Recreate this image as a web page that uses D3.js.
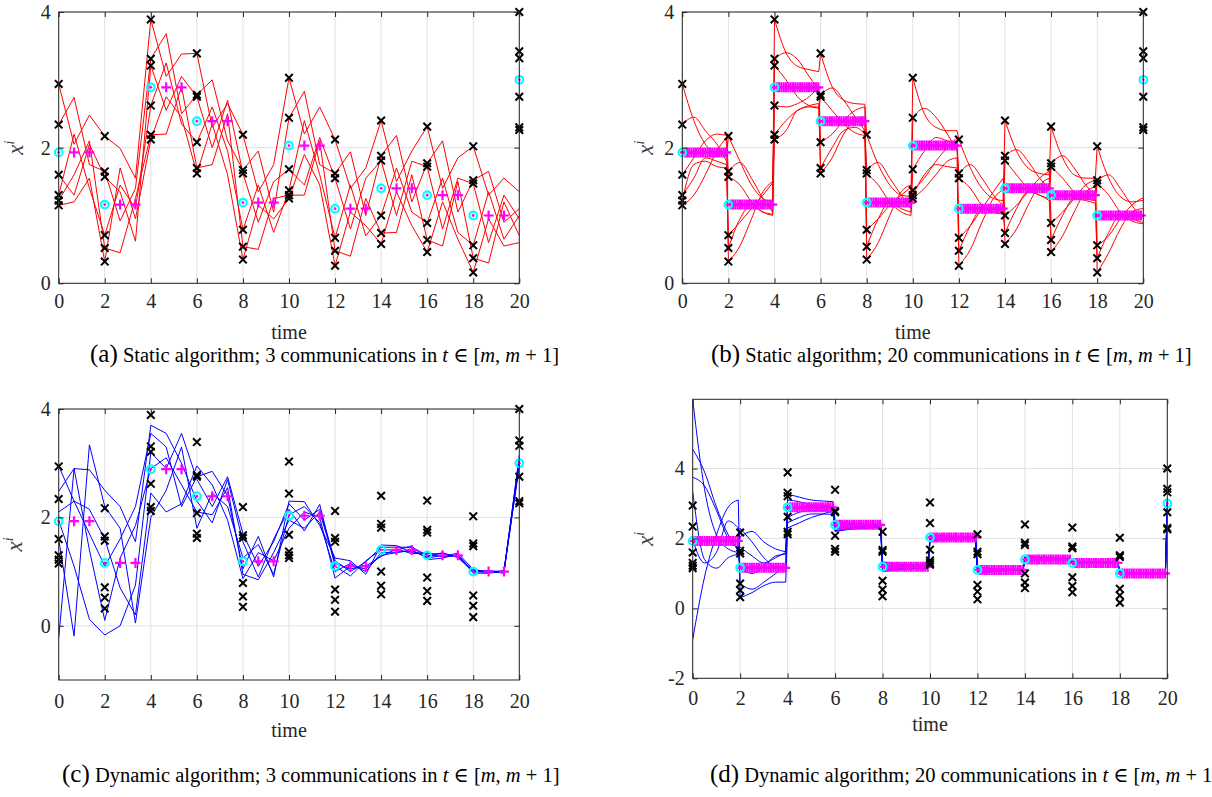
<!DOCTYPE html>
<html>
<head>
<meta charset="utf-8">
<script src="https://cdn.jsdelivr.net/npm/d3@7"></script>
<style>
  body { margin: 0; background: #fff; }
</style>
</head>
<body>
<svg id="fig" width="1212" height="797"></svg>
<script>
// ---- data ----
const timeTicks = [0, 2, 4, 6, 8, 10, 12, 14, 16, 18, 20];
const measTimes = [0, 2, 4, 6, 8, 10, 12, 14, 16, 18, 20];

// black crosses: six sensor readings at each sample time
const meas = [
  [2.94, 2.34, 1.60, 1.30, 1.22, 1.15],
  [2.17, 1.65, 1.57, 0.71, 0.52, 0.32],
  [3.89, 3.31, 3.21, 2.62, 2.19, 2.12],
  [3.39, 2.78, 2.75, 2.08, 1.70, 1.62],
  [2.19, 1.67, 1.62, 0.79, 0.54, 0.35],
  [3.03, 2.44, 1.68, 1.37, 1.30, 1.25],
  [2.12, 1.62, 1.55, 0.67, 0.48, 0.26],
  [2.40, 1.88, 1.81, 1.00, 0.74, 0.58],
  [2.31, 1.77, 1.72, 0.89, 0.64, 0.46],
  [2.02, 1.52, 1.47, 0.56, 0.37, 0.16],
  [4.00, 3.42, 3.32, 2.75, 2.30, 2.26]
];
// cyan circles / magenta pluses: the average
const means = [1.93, 1.16, 2.89, 2.39, 1.19, 2.03, 1.10, 1.40, 1.30, 1.00, 3.00];

// (a) static, 3 communications: agent values at m+2/3 and m+4/3
const aT1 = [
  [2.05, 2.74, 1.30, 2.20, 1.60, 1.20],
  [1.99, 0.92, 1.35, 1.45, 0.45, 1.70],
  [3.05, 3.68, 2.55, 3.25, 2.20, 2.75],
  [2.30, 3.00, 2.00, 2.60, 1.75, 2.35],
  [1.35, 1.95, 0.90, 1.45, 0.50, 1.15],
  [2.20, 2.83, 1.45, 2.40, 1.30, 1.90],
  [1.40, 1.94, 0.80, 1.45, 0.40, 1.05],
  [1.50, 2.18, 1.00, 1.70, 0.75, 1.35],
  [1.40, 2.10, 0.80, 1.55, 0.55, 1.20],
  [1.30, 1.65, 0.60, 1.35, 0.30, 0.95]
];
const aT2 = [
  [2.48, 1.75, 2.05, 1.40, 2.10, 1.55],
  [1.55, 1.40, 0.62, 1.10, 1.25, 0.95],
  [3.38, 2.50, 3.05, 2.35, 2.90, 2.45],
  [2.65, 2.10, 2.70, 1.95, 2.50, 1.60],
  [1.75, 1.05, 1.50, 0.75, 1.25, 0.95],
  [2.60, 1.75, 2.15, 1.60, 2.10, 1.45],
  [1.70, 1.00, 1.55, 0.70, 1.25, 0.85],
  [1.95, 1.20, 1.80, 1.05, 1.60, 0.85],
  [1.85, 1.05, 1.55, 0.75, 1.50, 0.65],
  [1.55, 0.90, 1.30, 0.65, 1.20, 0.55]
];
const aT20 = [1.35, 1.10, 0.95, 1.00, 0.70, 0.60];

// (b) static, 20 communications: per interval, per agent, values at m+0.5, m+1, m+1.5, end
const bCurve = [
  [[2.40, 2.05, 1.92, 1.88], [2.45, 2.25, 2.05, 1.80], [1.85, 2.10, 2.20, 2.18], [1.55, 1.85, 1.80, 1.75], [1.75, 1.80, 1.72, 1.70], [1.30, 1.60, 1.95, 2.15]],
  [[1.80, 1.45, 1.25, 1.20], [1.78, 1.55, 1.25, 1.05], [1.45, 1.20, 1.05, 1.00], [0.90, 1.10, 1.30, 1.48], [0.95, 1.15, 1.05, 1.02], [0.55, 0.95, 1.35, 1.50]],
  [[3.40, 3.20, 3.15, 3.12], [3.40, 3.30, 3.05, 2.85], [3.00, 2.75, 2.62, 2.58], [2.60, 2.65, 2.75, 2.90], [2.40, 2.55, 2.62, 2.65], [2.25, 2.55, 2.60, 2.60]],
  [[2.90, 2.70, 2.65, 2.64], [2.88, 2.70, 2.45, 2.25], [2.55, 2.35, 2.22, 2.18], [2.20, 2.40, 2.55, 2.60], [2.00, 2.25, 2.30, 2.20], [1.85, 2.20, 2.40, 2.45]],
  [[1.75, 1.45, 1.30, 1.28], [1.78, 1.55, 1.30, 1.10], [1.45, 1.20, 1.05, 1.00], [0.95, 1.15, 1.30, 1.42], [0.95, 1.20, 1.10, 1.05], [0.60, 1.00, 1.35, 1.45]],
  [[2.50, 2.30, 2.25, 2.25], [2.58, 2.45, 2.20, 1.95], [1.95, 2.15, 2.10, 2.05], [1.55, 1.80, 2.00, 2.15], [1.60, 1.75, 1.72, 1.70], [1.40, 1.60, 1.80, 1.85]],
  [[1.70, 1.40, 1.25, 1.22], [1.75, 1.55, 1.30, 1.15], [1.40, 1.15, 1.05, 1.02], [0.85, 1.10, 1.35, 1.55], [0.85, 1.10, 1.10, 1.05], [0.50, 0.90, 1.25, 1.38]],
  [[1.95, 1.70, 1.62, 1.60], [1.97, 1.80, 1.55, 1.40], [1.60, 1.40, 1.30, 1.25], [1.15, 1.35, 1.55, 1.65], [1.10, 1.35, 1.30, 1.22], [0.80, 1.15, 1.45, 1.55]],
  [[1.85, 1.60, 1.55, 1.55], [1.88, 1.70, 1.45, 1.30], [1.55, 1.35, 1.25, 1.22], [1.05, 1.25, 1.45, 1.52], [1.00, 1.25, 1.22, 1.18], [0.70, 1.05, 1.35, 1.42]],
  [[1.55, 1.28, 1.20, 1.22], [1.60, 1.40, 1.15, 0.98], [1.30, 1.05, 0.92, 0.88], [0.70, 0.95, 1.15, 1.25], [0.75, 1.00, 0.95, 0.90], [0.45, 0.80, 1.05, 1.10]]
];

// (c) dynamic, 3 communications: agent values at m, m+2/3, m+4/3
const cT0 = [
  [2.95, 2.48, 2.10, 1.95, 1.60, -0.23],
  [1.10, 2.50, 1.60, -0.17, 2.20, 0.10],
  [3.55, 3.70, 2.45, 3.20, 2.00, 2.90],
  [2.75, 2.30, 2.95, 2.70, 1.80, 2.10],
  [1.05, 1.55, 0.87, 1.70, 1.25, 0.95],
  [2.30, 2.15, 1.80, 2.25, 2.05, 1.95],
  [1.25, 1.10, 0.88, 1.20, 1.00, 1.15],
  [1.49, 1.40, 1.30, 1.45, 1.35, 1.28],
  [1.33, 1.22, 1.25, 1.30, 1.27, 1.35],
  [1.02, 0.97, 1.00, 1.04, 0.99, 1.01]
];
const cT1 = [
  [2.30, 2.90, 2.30, 1.10, -0.19, 2.90],
  [1.60, 2.20, 0.70, 0.00, 1.80, 1.25],
  [3.30, 3.55, 2.10, 2.90, 2.50, 3.10],
  [2.85, 1.90, 2.60, 2.20, 2.45, 2.05],
  [1.65, 0.90, 1.35, 1.10, 1.50, 0.85],
  [2.29, 1.75, 2.10, 1.95, 2.20, 1.80],
  [1.20, 0.92, 1.10, 1.00, 1.15, 1.05],
  [1.48, 1.40, 1.35, 1.45, 1.36, 1.42],
  [1.33, 1.25, 1.30, 1.28, 1.35, 1.27],
  [1.00, 0.97, 1.02, 0.99, 1.01, 0.98]
];
const cT2 = [
  [1.70, 2.88, 2.15, 0.12, 3.34, 1.40],
  [2.20, 1.55, 0.20, 0.75, 0.05, 1.85],
  [2.20, 3.00, 2.25, 3.55, 3.30, 2.60],
  [2.40, 2.70, 1.95, 2.75, 2.20, 2.55],
  [0.90, 1.60, 1.20, 1.55, 0.95, 1.35],
  [1.85, 2.24, 2.00, 2.15, 1.90, 2.10],
  [0.95, 1.20, 1.05, 1.18, 1.00, 1.10],
  [1.35, 1.47, 1.40, 1.45, 1.38, 1.33],
  [1.27, 1.32, 1.28, 1.34, 1.26, 1.30],
  [0.98, 1.01, 0.99, 1.02, 0.97, 1.00]
];
const cT20 = [3.10, 3.00, 2.95, 3.05, 3.15, 2.98];

// (d) dynamic, 20 communications: per interval, per agent, values at m, m+0.5, m+1, m+1.5, end
const dCurve = [
  [[5.97, 3.40, 2.10, 1.70, 1.60], [4.55, 3.90, 2.90, 2.10, 1.65], [3.75, 3.50, 2.80, 2.00, 1.75], [3.34, 1.40, 1.15, 1.45, 1.55], [-0.89, 0.90, 2.10, 2.90, 3.10], [1.95, 1.30, 1.60, 2.50, 2.30]],
  [[2.29, 1.90, 1.45, 1.20, 1.18], [2.05, 2.20, 1.90, 1.70, 1.62], [1.75, 1.50, 1.30, 1.45, 1.60], [1.15, 1.00, 1.20, 1.50, 1.55], [0.70, 0.55, 0.75, 1.00, 1.20], [0.30, 0.45, 0.65, 0.75, 0.75]],
  [[3.27, 3.18, 3.10, 3.07, 3.05], [3.10, 3.05, 2.95, 2.85, 2.75], [2.85, 2.90, 2.95, 2.95, 2.90], [2.60, 2.75, 2.80, 2.80, 2.70], [2.45, 2.60, 2.70, 2.70, 2.68], [2.30, 2.45, 2.60, 2.70, 2.80]],
  [[2.50, 2.45, 2.42, 2.40, 2.40], [2.45, 2.40, 2.38, 2.36, 2.35], [2.35, 2.36, 2.37, 2.38, 2.38], [2.28, 2.32, 2.34, 2.35, 2.36], [2.22, 2.28, 2.32, 2.33, 2.33], [2.20, 2.25, 2.28, 2.30, 2.31]],
  [[1.33, 1.28, 1.25, 1.24, 1.23], [1.25, 1.22, 1.21, 1.20, 1.20], [1.18, 1.18, 1.19, 1.19, 1.19], [1.12, 1.15, 1.16, 1.17, 1.18], [1.08, 1.12, 1.14, 1.15, 1.16], [1.05, 1.10, 1.13, 1.14, 1.15]],
  [[2.10, 2.08, 2.06, 2.05, 2.05], [2.06, 2.05, 2.04, 2.03, 2.03], [2.02, 2.02, 2.02, 2.02, 2.02], [1.98, 2.00, 2.01, 2.01, 2.01], [1.95, 1.98, 1.99, 2.00, 2.00], [1.92, 1.96, 1.98, 1.99, 1.99]],
  [[1.18, 1.15, 1.13, 1.12, 1.12], [1.14, 1.13, 1.12, 1.11, 1.11], [1.10, 1.10, 1.10, 1.10, 1.10], [1.06, 1.08, 1.09, 1.09, 1.10], [1.03, 1.06, 1.08, 1.09, 1.09], [1.00, 1.04, 1.07, 1.08, 1.08]],
  [[1.50, 1.47, 1.45, 1.44, 1.44], [1.47, 1.45, 1.44, 1.43, 1.43], [1.44, 1.43, 1.43, 1.43, 1.43], [1.41, 1.42, 1.42, 1.42, 1.42], [1.38, 1.40, 1.41, 1.42, 1.42], [1.36, 1.39, 1.41, 1.41, 1.41]],
  [[1.36, 1.34, 1.33, 1.32, 1.32], [1.34, 1.33, 1.32, 1.32, 1.32], [1.32, 1.32, 1.31, 1.31, 1.31], [1.30, 1.30, 1.31, 1.31, 1.31], [1.28, 1.29, 1.30, 1.30, 1.30], [1.26, 1.28, 1.29, 1.30, 1.30]],
  [[1.05, 1.03, 1.02, 1.01, 1.01], [1.03, 1.02, 1.01, 1.01, 1.01], [1.01, 1.00, 1.00, 1.00, 1.00], [0.99, 0.99, 1.00, 1.00, 1.00], [0.97, 0.98, 0.99, 0.99, 0.99], [0.95, 0.97, 0.98, 0.99, 0.99]]
];
const dT20 = [3.10, 3.05, 3.00, 2.98, 2.95, 2.92];

const captionLetters = ['a', 'b', 'c', 'd'];
const captionAlgos = ['Static', 'Static', 'Dynamic', 'Dynamic'];
const captionComms = [3, 20, 3, 20];

// ---- drawing ----
const serif = "'Liberation Serif', Tinos, 'Times New Roman', Times, 'DejaVu Serif', serif";
const svg = d3.select('#fig').attr('font-family', serif);
const nAgents = 6;
const axisColor = '#262626';

const panels = [
  {id: 'a', left: 58.7, right: 519.3, top: 12, bottom: 283.3, yDomain: [0, 4], yTicks: [0, 2, 4],
   nComm: 3, color: '#ff0000', labelX: 17, xPad: 11, timeY: 339, capX: 90, capY: 362},
  {id: 'b', left: 682.3, right: 1143.3, top: 12, bottom: 283.3, yDomain: [0, 4], yTicks: [0, 2, 4],
   nComm: 20, color: '#ff0000', labelX: 647, xPad: 11, timeY: 339, capX: 711, capY: 362},
  {id: 'c', left: 58.7, right: 519.3, top: 409, bottom: 680, yDomain: [-1, 4], yTicks: [0, 2, 4],
   nComm: 3, color: '#0000ff', labelX: 16, xPad: 14, timeY: 737, capX: 62, capY: 782},
  {id: 'd', left: 692.7, right: 1167.3, top: 399.3, bottom: 678.3, yDomain: [-2, 5.98], yTicks: [-2, 0, 2, 4],
   nComm: 20, color: '#0000ff', labelX: 647, xPad: 13, timeY: 731, capX: 710, capY: 782}
];

function agentPolyline(i, startVals, mid1, mid2, last) {
  const pts = [];
  for (let j = 0; j < 10; j++) {
    pts.push([2 * j, startVals[j][i]]);
    pts.push([2 * j + 2 / 3, mid1[j][i]]);
    pts.push([2 * j + 4 / 3, mid2[j][i]]);
  }
  pts.push([20, last[i]]);
  return pts;
}

function drawTrajectories(p, g, x, y) {
  const straight = d3.line().x(d => x(d[0])).y(d => y(d[1]));
  const smooth = d3.line().x(d => x(d[0])).y(d => y(d[1])).curve(d3.curveMonotoneX);
  const style = sel => sel.attr('fill', 'none').attr('stroke', p.color).attr('stroke-width', 1);

  if (p.id === 'a' || p.id === 'c') {
    for (let i = 0; i < nAgents; i++) {
      const pts = p.id === 'a'
        ? agentPolyline(i, meas, aT1, aT2, aT20)
        : agentPolyline(i, cT0, cT1, cT2, cT20);
      g.append('path').datum(pts).attr('d', straight).call(style);
    }
    return;
  }

  // smooth panels: one curve per interval plus the jump at the next sample
  const offs = [0, 0.5, 1, 1.5, 1.92];
  for (let j = 0; j < 10; j++) {
    for (let i = 0; i < nAgents; i++) {
      const vals = p.id === 'b' ? [meas[j][i]].concat(bCurve[j][i]) : dCurve[j][i];
      const pts = vals.map((v, k) => [2 * j + offs[k], v]);
      g.append('path').datum(pts).attr('d', smooth).call(style);
      let next = vals[vals.length - 1];
      if (j < 9) next = p.id === 'b' ? meas[j + 1][i] : dCurve[j + 1][i][0];
      else if (p.id === 'd') next = dT20[i];
      g.append('path').datum([pts[pts.length - 1], [2 * j + 2, next]]).attr('d', straight).call(style);
    }
  }
}

function drawPanel(p) {
  const x = d3.scaleLinear().domain([0, 20]).range([p.left, p.right]);
  const y = d3.scaleLinear().domain(p.yDomain).range([p.bottom, p.top]);
  const g = svg.append('g').attr('class', 'panel-' + p.id);

  // grid
  g.append('g').selectAll('line').data(timeTicks).join('line')
    .attr('x1', d => x(d)).attr('x2', d => x(d))
    .attr('y1', p.top).attr('y2', p.bottom)
    .attr('stroke', '#e1e1e1').attr('stroke-width', 1);
  g.append('g').selectAll('line').data(p.yTicks).join('line')
    .attr('x1', p.left).attr('x2', p.right)
    .attr('y1', d => y(d)).attr('y2', d => y(d))
    .attr('stroke', '#e1e1e1').attr('stroke-width', 1);

  // clipped data lines
  svg.append('clipPath').attr('id', 'clip-' + p.id).append('rect')
    .attr('x', p.left).attr('y', p.top)
    .attr('width', p.right - p.left).attr('height', p.bottom - p.top);
  const lines = g.append('g').attr('clip-path', `url(#clip-${p.id})`);
  drawTrajectories(p, lines, x, y);

  // magenta pluses: the average held during the communication steps
  const plus = [];
  for (let j = 0; j < 10; j++) {
    for (let k = 1; k < p.nComm; k++) plus.push([2 * j + 2 * k / p.nComm, means[j]]);
  }
  g.append('g').selectAll('path').data(plus).join('path')
    .attr('transform', d => `translate(${x(d[0])},${y(d[1])})`)
    .attr('d', 'M-5,0H5M0,-5V5')
    .attr('stroke', '#ff00ff').attr('stroke-width', 2.2).attr('fill', 'none');

  // black crosses: measurements
  const crosses = [];
  measTimes.forEach((t, j) => meas[j].forEach(v => crosses.push([t, v])));
  g.append('g').selectAll('path').data(crosses).join('path')
    .attr('transform', d => `translate(${x(d[0])},${y(d[1])})`)
    .attr('d', 'M-3.8,-3.8L3.8,3.8M-3.8,3.8L3.8,-3.8')
    .attr('stroke', '#000').attr('stroke-width', 2).attr('fill', 'none');

  // cyan circles with magenta dot: average at the sample times
  const avg = measTimes.map((t, j) => [t, means[j]]);
  const circ = g.append('g').selectAll('g').data(avg).join('g')
    .attr('transform', d => `translate(${x(d[0])},${y(d[1])})`);
  circ.append('circle').attr('r', 3.8).attr('fill', 'none')
    .attr('stroke', '#00ffff').attr('stroke-width', 2.2);
  circ.append('circle').attr('r', 1.4).attr('fill', '#ff00ff');

  // box and axes
  g.append('rect').attr('x', p.left).attr('y', p.top)
    .attr('width', p.right - p.left).attr('height', p.bottom - p.top)
    .attr('fill', 'none').attr('stroke', axisColor).attr('stroke-width', 1);

  const styleAxis = a => {
    a.select('.domain').remove();
    a.attr('font-family', serif).attr('font-size', 20);
    a.selectAll('line').attr('stroke', axisColor);
    a.selectAll('text').attr('fill', axisColor);
  };
  g.append('g').attr('transform', `translate(0,${p.bottom})`)
    .call(d3.axisBottom(x).tickValues(timeTicks).tickSize(-5).tickPadding(p.xPad).tickFormat(d => String(d)))
    .call(styleAxis);
  g.append('g').attr('transform', `translate(0,${p.top})`)
    .call(d3.axisTop(x).tickValues(timeTicks).tickSize(-5).tickFormat(''))
    .call(styleAxis);
  g.append('g').attr('transform', `translate(${p.left},0)`)
    .call(d3.axisLeft(y).tickValues(p.yTicks).tickSize(-5).tickPadding(8).tickFormat(d => String(d)))
    .call(styleAxis);
  g.append('g').attr('transform', `translate(${p.right},0)`)
    .call(d3.axisRight(y).tickValues(p.yTicks).tickSize(-5).tickFormat(''))
    .call(styleAxis);

  // axis titles
  g.append('text').attr('x', (p.left + p.right) / 2).attr('y', p.timeY)
    .attr('text-anchor', 'middle').attr('font-size', 20).attr('fill', axisColor).text('time');

  const cy = (p.top + p.bottom) / 2;
  const yl = g.append('text').attr('transform', `translate(${p.labelX + 6},${cy}) rotate(-90)`)
    .attr('text-anchor', 'middle').attr('fill', '#404040');
  yl.append('tspan').attr('font-style', 'italic').attr('font-size', 23).text('x');
  yl.append('tspan').attr('font-style', 'italic').attr('font-size', 14).attr('dy', -9).text('i');
}

function drawCaption(p, idx) {
  const t = svg.append('text').attr('x', p.capX).attr('y', p.capY).attr('fill', '#000');
  t.append('tspan').attr('font-size', 25).text(`(${captionLetters[idx]})`);
  const body = t.append('tspan').attr('font-size', 20.5);
  body.append('tspan').text(` ${captionAlgos[idx]} algorithm; ${captionComms[idx]} communications in `);
  body.append('tspan').attr('font-style', 'italic').text('t');
  body.append('tspan').text(' \u2208 [');
  body.append('tspan').attr('font-style', 'italic').text('m');
  body.append('tspan').text(', ');
  body.append('tspan').attr('font-style', 'italic').text('m');
  body.append('tspan').text(' + 1]');
}

panels.forEach((p, idx) => {
  drawPanel(p);
  drawCaption(p, idx);
});
</script>
</body>
</html>
